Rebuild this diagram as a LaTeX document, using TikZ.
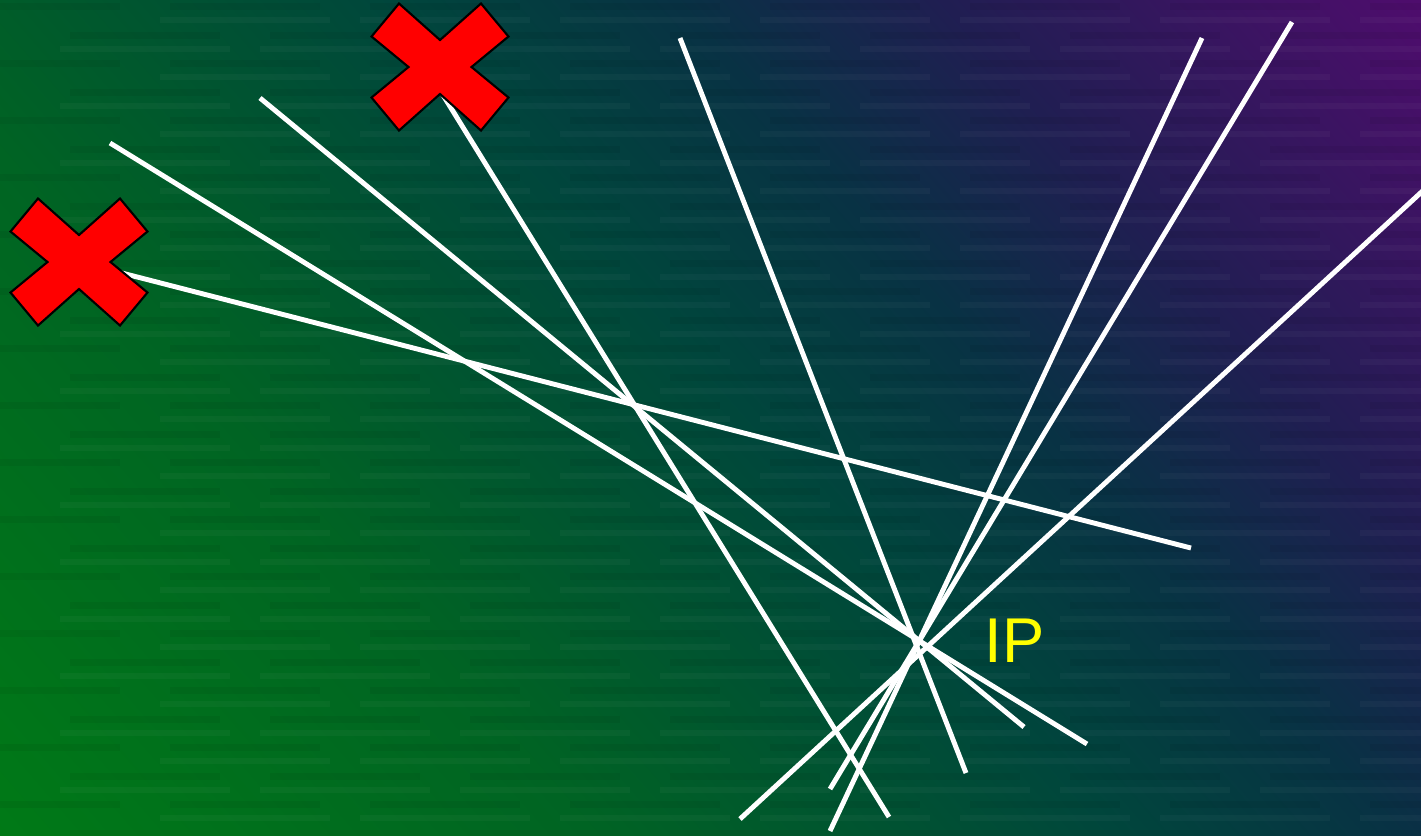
\documentclass[tikz,border=0pt]{standalone}
\usepackage{fontspec}
\setmainfont{Liberation Sans}
\definecolor{bgGreen}{RGB}{0, 122, 22}
\definecolor{bgForest}{RGB}{0, 100, 35}
\definecolor{bgTeal}{RGB}{0, 70, 60}
\definecolor{bgSlate}{RGB}{8, 50, 68}
\definecolor{bgNavy}{RGB}{32, 30, 82}
\definecolor{bgPurple}{RGB}{80, 12, 110}
\definecolor{ipYellow}{RGB}{255, 255, 0}
\definecolor{xRed}{RGB}{255, 0, 0}
\pgfdeclarehorizontalshading{bgfade}{100bp}{color(0bp)=(bgGreen); color(25bp)=(bgGreen); color(38.9bp)=(bgForest); color(51bp)=(bgTeal); color(57.5bp)=(bgSlate); color(63.7bp)=(bgNavy); color(75bp)=(bgPurple); color(100bp)=(bgPurple)}
\tikzset{
  track/.style={draw=white, line width=1.4pt},
  brickdark/.style={fill=black, opacity=0.05},
  bricklight/.style={fill=white, opacity=0.03},
  iplabel/.style={text=ipYellow, inner sep=0pt, font=\fontsize{18}{18}\selectfont},
  xmark/.pic={
    \filldraw[fill=xRed, draw=black, line width=0.6pt, line join=miter]
      (-41,-63.5) -- (0,-27) -- (41,-63.5) -- (68.5,-30.5) -- (31.5,0) -- (68.5,30.5)
      -- (41,63.5) -- (0,27) -- (-41,63.5) -- (-68.5,30.5) -- (-31.5,0) -- (-68.5,-30.5) -- cycle;
  },
}

\begin{document}
\begin{tikzpicture}[x=0.01cm, y=-0.01cm]
  \useasboundingbox (0,0) rectangle (1421,835);

  % background
  \begin{scope}[x=1cm, y=1cm]
    \clip (0,0) rectangle (14.21,-8.35);
    \begin{scope}[transform canvas={rotate around={41:(0,-8.35)}}]
      \shade[shading=bgfade] (-0.1,-17.9) rectangle (16.3,-1.8);
    \end{scope}
  \end{scope}
  \foreach \r in {0,...,29} {
    \foreach \c in {0,...,7} {
      \fill[brickdark] ({\c*200 + mod(\r,2)*100 - 30}, {\r*28.5 + 3}) rectangle ++(150,7);
      \fill[bricklight] ({\c*200 + mod(\r+1,2)*100 + 60}, {\r*28.5 + 17}) rectangle ++(170,6);
    }
  }

  \coordinate (xa) at (79,262);
  \coordinate (xb) at (440,67);
  \coordinate (tb) at (430,74);
  \coordinate (t1a) at (110,143);  \coordinate (t1b) at (1087,744);
  \coordinate (t2a) at (260,98);   \coordinate (t2b) at (1024,727);
  \coordinate (t3b) at (1191,548);
  \coordinate (t4b) at (889,817);
  \coordinate (t5a) at (680,38);   \coordinate (t5b) at (966,773);
  \coordinate (t6a) at (1202,38);  \coordinate (t6b) at (830,831);
  \coordinate (t7a) at (1292,22);  \coordinate (t7b) at (830,789);
  \coordinate (t8a) at (1440,175); \coordinate (t8b) at (740,819);

  \draw[track] (t1a) -- (t1b);
  \draw[track] (t2a) -- (t2b);
  \draw[track] (xa) -- (t3b);
  \draw[track] (tb) -- (t4b);
  \draw[track] (t5a) -- (t5b);
  \draw[track] (t6a) -- (t6b);
  \draw[track] (t7a) -- (t7b);
  \draw[track] (t8a) -- (t8b);

  \pic at (xa) {xmark};
  \pic at (xb) {xmark};

  \node[iplabel, anchor=base west] (ip) at (984,662) {IP};
\end{tikzpicture}
\end{document}
